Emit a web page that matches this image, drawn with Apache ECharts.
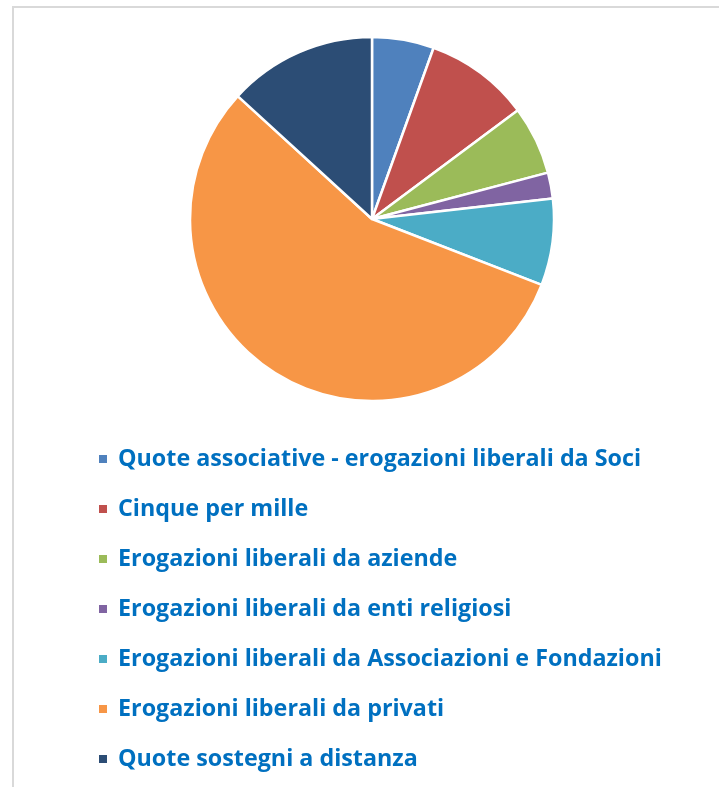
<!DOCTYPE html>
<html>
<head>
<meta charset="utf-8">
<script src="https://cdn.jsdelivr.net/npm/echarts@6/dist/echarts.min.js"></script>
<style>
  html, body { margin: 0; padding: 0; background: #fff; }
  #chart { width: 719px; height: 787px; }
</style>
</head>
<body>
<div id="chart"></div>
<script>
// Data (percent shares)
const categories = [
  'Quote associative - erogazioni liberali da Soci',
  'Cinque per mille',
  'Erogazioni liberali da aziende',
  'Erogazioni liberali da enti religiosi',
  'Erogazioni liberali da Associazioni e Fondazioni',
  'Erogazioni liberali da privati',
  'Quote sostegni a distanza'
];
const values = [5.5, 9.3, 6.1, 2.3, 7.7, 55.9, 13.2];
const colors = ['#4F81BD', '#C0504D', '#9BBB59', '#8064A2', '#4BACC6', '#F79646', '#2C4D75'];

const chart = echarts.init(document.getElementById('chart'));

const option = {
  animation: false,
  color: colors,
  graphic: [
    {
      type: 'rect',
      shape: { x: 13, y: 7, width: 800, height: 900 },
      style: { fill: 'none', stroke: '#D9D9D9', lineWidth: 2 },
      silent: true
    }
  ],
  legend: {
    orient: 'vertical',
    left: 97,
    top: 445,
    padding: 0,
    icon: 'rect',
    itemWidth: 10,
    itemHeight: 10,
    itemGap: 22,
    data: categories,
    textStyle: {
      fontFamily: "'Liberation Sans Narrow', 'Open Sans', sans-serif",
      fontWeight: 'bold',
      fontSize: 23.3,
      lineHeight: 28,
      color: '#0070C0',
      padding: [0, 0, 0, 5]
    }
  },
  series: [
    {
      type: 'pie',
      center: [372, 219],
      radius: 182,
      startAngle: 90,
      clockwise: true,
      label: { show: false },
      labelLine: { show: false },
      itemStyle: { borderColor: '#fff', borderWidth: 2.5 },
      emphasis: { disabled: true },
      data: categories.map((name, i) => ({ name, value: values[i] }))
    }
  ]
};

chart.setOption(option);
</script>
</body>
</html>
